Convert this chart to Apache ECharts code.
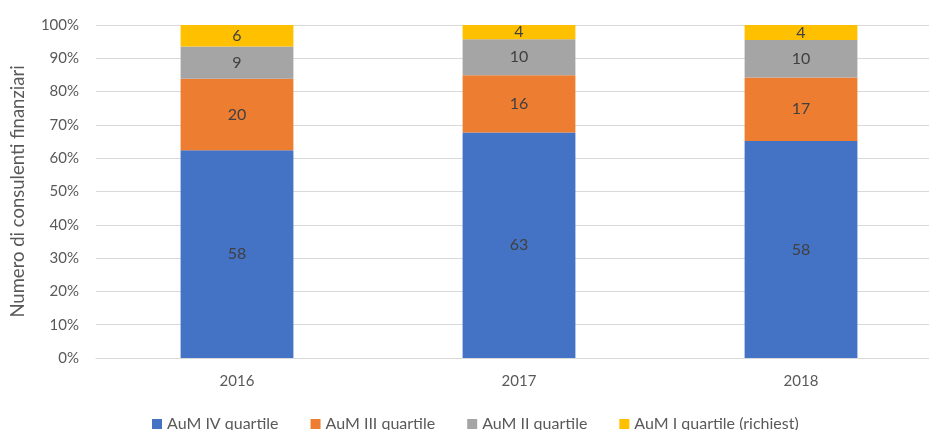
<!DOCTYPE html>
<html>
<head>
<meta charset="utf-8">
<script src="https://cdn.jsdelivr.net/npm/echarts@6/dist/echarts.min.js"></script>
<style>
html,body{margin:0;padding:0;background:#fff;overflow:hidden;width:929px;height:430px;}
#c{width:960px;height:430px;}
</style>
</head>
<body>
<div id="c"></div>
<script>
const categories = ['2016', '2017', '2018'];
const seriesNames = ['AuM IV quartile', 'AuM III quartile', 'AuM II quartile', 'AuM I quartile (richiest)'];
const q4 = [58, 63, 58];
const q3 = [20, 16, 17];
const q2 = [9, 10, 10];
const q1 = [6, 4, 4];
const yTicks = [0, 10, 20, 30, 40, 50, 60, 70, 80, 90, 100];
const colors = ['#4472C4', '#ED7D31', '#A5A5A5', '#FFC000'];

const raw = [q4, q3, q2, q1];
const totals = categories.map((_, i) => raw.reduce((s, a) => s + a[i], 0));
const FONT = 'Lato';

const chart = echarts.init(document.getElementById('c'));
chart.setOption({
  animation: false,
  textStyle: { fontFamily: FONT },
  grid: { left: 96, top: 25, width: 846, height: 333 },
  legend: {
    top: 411,
    left: 147,
    itemWidth: 10, itemHeight: 10, itemGap: 32,
    icon: 'rect',
    textStyle: { color: '#595959', fontSize: 16, fontFamily: FONT },
    data: seriesNames
  },
  xAxis: {
    type: 'category',
    data: categories,
    axisTick: { show: false },
    axisLine: { lineStyle: { color: '#d9d9d9' } },
    axisLabel: { color: '#595959', fontSize: 15, margin: 16 }
  },
  yAxis: {
    type: 'value',
    min: 0, max: 100, interval: 10,
    name: 'Numero di consulenti finanziari',
    nameLocation: 'middle',
    nameGap: 68,
    nameRotate: 90,
    nameTextStyle: { color: '#595959', fontSize: 18.5 },
    axisLabel: { color: '#595959', fontSize: 15, margin: 17,
      formatter: v => yTicks.includes(v) ? v + '%' : '' },
    splitLine: { lineStyle: { color: '#d9d9d9' } }
  },
  series: raw.map((arr, k) => ({
    name: seriesNames[k],
    type: 'bar',
    stack: 'total',
    barCategoryGap: '60%',
    itemStyle: { color: colors[k] },
    data: arr.map((v, i) => ({ value: v / totals[i] * 100, raw: v })),
    label: {
      show: true,
      position: 'inside',
      color: '#404040',
      fontSize: 16,
      formatter: p => String(arr[p.dataIndex])
    }
  }))
});
</script>
</body>
</html>
